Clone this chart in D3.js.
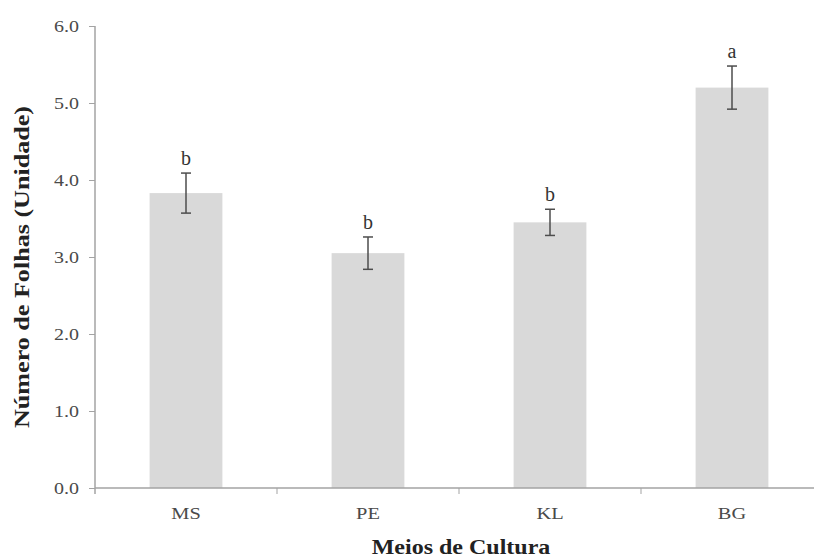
<!DOCTYPE html>
<html>
<head>
<meta charset="utf-8">
<script src="https://cdn.jsdelivr.net/npm/d3@7"></script>
<style>
  html, body { margin: 0; padding: 0; background: #fff; }
  svg { display: block; }
</style>
</head>
<body>
<svg id="chart" width="814" height="558"></svg>
<script>
// Culture media and mean leaf counts with standard errors
const categories = ["MS", "PE", "KL", "BG"];
const means = [3.83, 3.05, 3.45, 5.20];
const errors = [0.26, 0.21, 0.17, 0.28];
const letters = ["b", "b", "b", "a"];
const yTicks = [0, 1, 2, 3, 4, 5, 6];

const svg = d3.select("#chart");
const axisColor = "#a3a3a3";
const textColor = "#4a4a4a";
const serif = "'Liberation Serif', 'Times New Roman', serif";

const x = d3.scaleBand()
  .domain(categories)
  .range([95, 823])
  .paddingInner(0.6)
  .paddingOuter(0.3);

const y = d3.scaleLinear()
  .domain([0, 6])
  .range([488, 26]);

// Bars
svg.append("g")
  .selectAll("rect")
  .data(categories)
  .join("rect")
  .attr("x", d => x(d))
  .attr("y", (d, i) => y(means[i]))
  .attr("width", x.bandwidth())
  .attr("height", (d, i) => y(0) - y(means[i]))
  .attr("fill", "#d9d9d9");

// Y axis
const yAxis = svg.append("g")
  .attr("transform", "translate(95,0)")
  .call(d3.axisLeft(y).tickValues(yTicks).tickFormat(d3.format(".1f")).tickSize(6).tickPadding(10));
yAxis.select(".domain").attr("stroke", axisColor).attr("stroke-width", 1.5)
  .attr("d", `M0,${y(6)}V${y(0) + 6}`);
yAxis.selectAll(".tick line").attr("stroke", axisColor);
yAxis.selectAll(".tick text")
  .attr("fill", textColor)
  .style("font-family", serif)
  .style("font-size", "16px")
  .attr("transform", "scale(1.25,1)")
  .attr("x", -16 / 1.25);

// X axis: line with ticks at category boundaries
const boundaries = categories.slice(1).map(d => x(d) - x.step() * x.paddingInner() / 2);
const xAxis = svg.append("g");
xAxis.append("line")
  .attr("x1", 95).attr("x2", 823)
  .attr("y1", y(0)).attr("y2", y(0))
  .attr("stroke", axisColor).attr("stroke-width", 1.5);
xAxis.selectAll("line.tick")
  .data(boundaries)
  .join("line")
  .attr("class", "tick")
  .attr("x1", d => d).attr("x2", d => d)
  .attr("y1", y(0)).attr("y2", y(0) + 6)
  .attr("stroke", axisColor);

// Category labels
svg.append("g")
  .selectAll("text")
  .data(categories)
  .join("text")
  .attr("transform", d => `translate(${x(d) + x.bandwidth() / 2},519) scale(1.2,1)`)
  .attr("text-anchor", "middle")
  .attr("fill", textColor)
  .style("font-family", serif)
  .style("font-size", "17px")
  .text(d => d);

// Error bars
const err = svg.append("g").attr("stroke", "#4d4d4d").attr("stroke-width", 1.5);
categories.forEach((c, i) => {
  const cx = x(c) + x.bandwidth() / 2;
  const top = y(means[i] + errors[i]);
  const bot = y(means[i] - errors[i]);
  err.append("line").attr("x1", cx).attr("x2", cx).attr("y1", top).attr("y2", bot);
  err.append("line").attr("x1", cx - 5).attr("x2", cx + 5).attr("y1", top).attr("y2", top);
  err.append("line").attr("x1", cx - 5).attr("x2", cx + 5).attr("y1", bot).attr("y2", bot);
});

// Significance letters
svg.append("g")
  .selectAll("text")
  .data(categories)
  .join("text")
  .attr("x", d => x(d) + x.bandwidth() / 2)
  .attr("y", (d, i) => y(means[i] + errors[i]) - 8)
  .attr("text-anchor", "middle")
  .attr("fill", "#333")
  .style("font-family", serif)
  .style("font-size", "20px")
  .text((d, i) => letters[i]);

// Axis titles
svg.append("text")
  .attr("transform", "translate(461,554) scale(1.2,1)")
  .attr("text-anchor", "middle")
  .attr("fill", "#222")
  .style("font-family", serif)
  .style("font-size", "20px")
  .style("font-weight", "bold")
  .text("Meios de Cultura");

svg.append("text")
  .attr("transform", "translate(29,267) rotate(-90)")
  .attr("text-anchor", "middle")
  .attr("fill", "#222")
  .style("font-family", serif)
  .style("font-size", "21px")
  .style("font-weight", "bold")
  .attr("textLength", 322)
  .attr("lengthAdjust", "spacingAndGlyphs")
  .text("Número de Folhas (Unidade)");
</script>
</body>
</html>
